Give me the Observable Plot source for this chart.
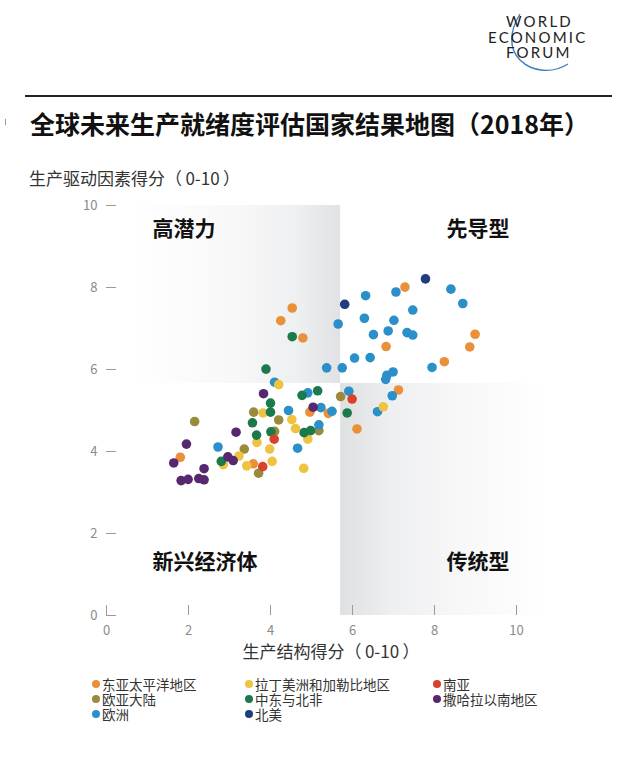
<!DOCTYPE html>
<html>
<head>
<meta charset="utf-8">
<script src="https://cdn.jsdelivr.net/npm/d3@7"></script>
<script src="https://cdn.jsdelivr.net/npm/@observablehq/plot@0.6"></script>
<style>
  html, body { margin: 0; padding: 0; background: #fff; }
  #page { position: relative; width: 640px; height: 765px; overflow: hidden;
          font-family: "Noto Sans CJK SC", "Noto Sans", sans-serif; color: #222; }
  .abs { position: absolute; white-space: nowrap; }
  #logo div { position: absolute; font-family: Lato, "DejaVu Sans", sans-serif; font-size: 15px;
              letter-spacing: 2.2px; color: #222; line-height: 15px; }
  #title { left: 30px; top: 110px; font-size: 25px; line-height: 27px; font-weight: 700; color: #111; }
  #ylabel { left: 29px; top: 168px; font-size: 17px; line-height: 20px; color: #333; }
  #xlabel { left: 331px; top: 641px; font-size: 17px; line-height: 20px; color: #333; transform: translateX(-50%); }
  #chart { left: 0; top: 190px; }
  .leg { position: absolute; font-size: 13.5px; line-height: 14px; height: 14px; color: #333; }
  .leg span.dot { position: absolute; left: -10px; top: 3px; width: 8px; height: 8px; border-radius: 50%; }
</style>
</head>
<body>
<div id="page">
  <div id="logo">
    <svg class="abs" style="left:480px;top:0" width="160" height="90">
      <path d="M40,14 C30,30 28,48 40,60 C52,72 72,74 88,64" fill="none" stroke="#3b7fc0" stroke-width="1.4"/>
    </svg>
    <div style="left:506px;top:14px">WORLD</div>
    <div style="left:488px;top:30px">ECONOMIC</div>
    <div style="left:506px;top:45px">FORUM</div>
  </div>
  <div class="abs" style="left:5px;top:119px;width:1px;height:6px;background:#999"></div>
  <div class="abs" style="left:25px;top:95px;width:587px;height:2px;background:#222"></div>
  <div id="title" class="abs">全球未来生产就绪度评估国家结果地图（2018年）</div>
  <div id="ylabel" class="abs">生产驱动因素得分（&thinsp;0-10&thinsp;）</div>
  <div id="chart" class="abs"></div>
  <div id="xlabel" class="abs">生产结构得分（&thinsp;0-10&thinsp;）</div>
  <div id="legend"></div>
</div>
<script>
// ---- Data ----
const regions = ["东亚太平洋地区", "欧亚大陆", "欧洲", "拉丁美洲和加勒比地区", "中东与北非", "北美", "南亚", "撒哈拉以南地区"];
const regionColors = ["#e8913a", "#9a8a3c", "#2b8fc9", "#eec342", "#1b7a4b", "#1f3e7e", "#d9412b", "#57286f"];

const eastAsiaPacific = [[4.53,7.50],[4.25,7.19],[4.79,6.77],[7.28,8.01],[8.99,6.86],[8.86,6.55],[6.82,6.56],[8.24,6.19],[7.12,5.50],[4.96,4.96],[5.41,4.93],[6.11,4.55],[1.80,3.86],[3.58,3.70]];
const eurasia = [[5.71,5.34],[3.59,4.96],[2.15,4.73],[4.20,4.77],[5.18,4.51],[4.10,4.49],[3.36,4.06],[3.71,3.47]];
const europe = [[7.06,7.89],[8.40,7.96],[6.32,7.80],[8.69,7.61],[7.47,7.45],[5.65,7.11],[6.29,7.25],[7.01,7.20],[6.87,6.94],[6.51,6.85],[7.33,6.90],[7.47,6.84],[6.05,6.28],[6.43,6.29],[5.37,6.04],[5.75,6.04],[7.94,6.05],[6.99,5.94],[6.84,5.86],[6.81,5.76],[6.97,5.36],[5.91,5.47],[4.91,5.43],[5.23,5.07],[5.50,4.98],[6.61,4.97],[5.18,4.65],[4.44,5.00],[4.10,5.69],[2.72,4.11],[4.66,4.08]];
const latinAmerica = [[4.20,5.63],[3.82,4.94],[4.52,4.78],[4.61,4.56],[4.91,4.30],[6.75,5.09],[3.67,4.22],[3.98,4.06],[2.85,3.68],[3.23,3.89],[3.42,3.65],[4.04,3.76],[4.81,3.59]];
const middleEastNorthAfrica = [[4.53,6.80],[3.89,6.01],[4.77,5.37],[5.15,5.48],[4.00,5.18],[4.00,4.96],[5.87,4.94],[3.56,4.70],[3.66,4.40],[4.01,4.48],[4.82,4.46],[4.98,4.51],[2.80,3.76]];
const northAmerica = [[7.78,8.21],[5.81,7.59]];
const southAsia = [[5.99,5.28],[4.09,4.30],[3.81,3.63]];
const subSaharanAfrica = [[3.83,5.41],[5.04,5.08],[3.16,4.47],[1.95,4.18],[1.64,3.72],[2.96,3.87],[3.09,3.78],[2.38,3.58],[1.82,3.29],[1.99,3.32],[2.25,3.34],[2.38,3.31]];

const seriesByRegion = [eastAsiaPacific, eurasia, europe, latinAmerica, middleEastNorthAfrica, northAmerica, southAsia, subSaharanAfrica];

const xTicks = [0, 2, 4, 6, 8, 10];
const yTicks = [0, 2, 4, 6, 8, 10];
const structureThreshold = 5.71;   // 生产结构 split
const driversThreshold = 5.66;     // 生产驱动因素 split
const quadrantNames = ["高潜力", "先导型", "新兴经济体", "传统型"];

// ---- Build table ----
const points = seriesByRegion.flatMap((s, i) => s.map(([x, y]) => ({region: regions[i], x, y})));

const gradientDefs = () => {
  const defs = d3.create("svg:defs");
  const g1 = defs.append("linearGradient").attr("id", "gradTL").attr("x1", "0").attr("x2", "1").attr("y1", "0").attr("y2", "0");
  g1.append("stop").attr("offset", "0%").attr("stop-color", "#ffffff");
  g1.append("stop").attr("offset", "50%").attr("stop-color", "#f8f8f9");
  g1.append("stop").attr("offset", "80%").attr("stop-color", "#eeeff0");
  g1.append("stop").attr("offset", "100%").attr("stop-color", "#e1e2e4");
  const g2 = defs.append("linearGradient").attr("id", "gradBR").attr("x1", "0").attr("x2", "1").attr("y1", "0").attr("y2", "0");
  g2.append("stop").attr("offset", "0%").attr("stop-color", "#dfe0e2");
  g2.append("stop").attr("offset", "25%").attr("stop-color", "#eeeff0");
  g2.append("stop").attr("offset", "60%").attr("stop-color", "#f8f8f9");
  g2.append("stop").attr("offset", "100%").attr("stop-color", "#ffffff");
  return defs.node();
};

const chart = Plot.plot({
  width: 640,
  height: 455,
  marginLeft: 106,
  marginRight: 124,
  marginTop: 15,
  marginBottom: 30,
  x: {domain: [0, 10]},
  y: {domain: [0, 10]},
  color: {domain: regions, range: regionColors},
  style: {fontFamily: "'Noto Sans CJK SC', 'Noto Sans', sans-serif", background: "transparent", overflow: "visible"},
  marks: [
    gradientDefs,
    Plot.rect([{x1: 0.6, x2: structureThreshold, y1: driversThreshold, y2: 10}], {x1: "x1", x2: "x2", y1: "y1", y2: "y2", fill: "url(#gradTL)"}),
    Plot.rect([{x1: structureThreshold, x2: 10.8, y1: 0, y2: driversThreshold}], {x1: "x1", x2: "x2", y1: "y1", y2: "y2", fill: "url(#gradBR)"}),
    Plot.tickY(yTicks, {y: d => d, stroke: "#9a9a9a", strokeWidth: 1, insetRight: 400}),
    Plot.tickX(xTicks, {x: d => d, stroke: "#9a9a9a", strokeWidth: 1, insetTop: 400}),
    Plot.axisX({ticks: xTicks, tickSize: 0, tickPadding: 10, fontSize: 13, fill: "#8a8a8a", label: null}),
    Plot.axisY({ticks: yTicks, tickSize: 0, tickPadding: 9, fontSize: 13, fill: "#8a8a8a", label: null}),
    Plot.text([quadrantNames[0]], {frameAnchor: "top-left", textAnchor: "start", lineAnchor: "middle", dx: 46, dy: 24, fontSize: 21, fontWeight: 700, fill: "#111"}),
    Plot.text([quadrantNames[1]], {frameAnchor: "top-right", textAnchor: "end", lineAnchor: "middle", dx: -7, dy: 24, fontSize: 21, fontWeight: 700, fill: "#111"}),
    Plot.text([quadrantNames[2]], {frameAnchor: "bottom-left", textAnchor: "start", lineAnchor: "middle", dx: 46, dy: -53, fontSize: 21, fontWeight: 700, fill: "#111"}),
    Plot.text([quadrantNames[3]], {frameAnchor: "bottom-right", textAnchor: "end", lineAnchor: "middle", dx: -7, dy: -53, fontSize: 21, fontWeight: 700, fill: "#111"}),
    Plot.dot(points, {x: "x", y: "y", fill: "region", r: 4.8, stroke: "none"})
  ]
});
document.getElementById("chart").appendChild(chart);

// ---- Legend ----
const legend = document.getElementById("legend");
const colX = [102, 255, 443];
const rowY = [677, 692, 707];
regions.forEach((r, i) => {
  const col = Math.floor(i / 3), row = i % 3;
  const el = document.createElement("div");
  el.className = "leg";
  el.style.left = colX[col] + "px";
  el.style.top = rowY[row] + "px";
  el.innerHTML = `<span class="dot" style="background:${regionColors[i]}"></span>${r}`;
  legend.appendChild(el);
});
</script>
</body>
</html>
